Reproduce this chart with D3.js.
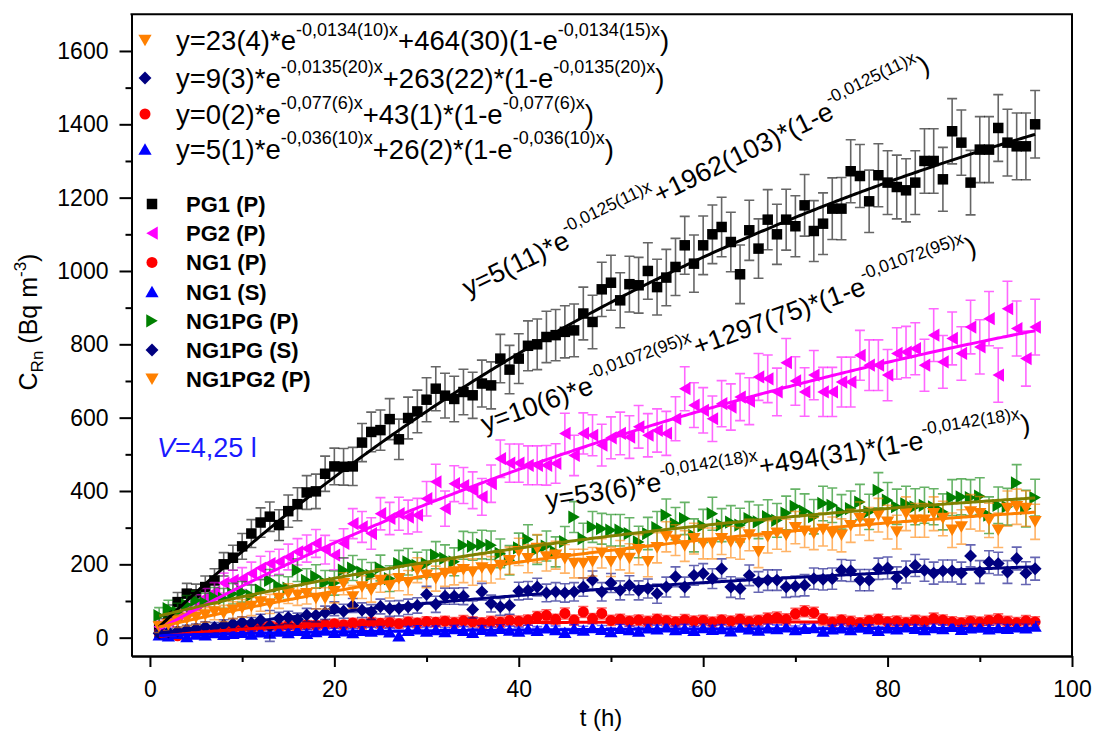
<!DOCTYPE html>
<html><head><meta charset="utf-8">
<script src="https://cdn.jsdelivr.net/npm/d3@7"></script>
<style>
body{margin:0;background:#fff}
svg{display:block}
text{font-family:"Liberation Sans",Arial,sans-serif;fill:#000}
</style>
</head><body>
<svg id="chart" width="1093" height="735"></svg>
<script>
// ---------- data ----------
const hours=[1,2,3,4,5,6,7,8,9,10,11,12,13,14,15,16,17,18,19,20,21,22,23,24,25,26,27,28,29,30,31,32,33,34,35,36,37,38,39,40,41,42,43,44,45,46,47,48,49,50,51,52,53,54,55,56,57,58,59,60,61,62,63,64,65,66,67,68,69,70,71,72,73,74,75,76,77,78,79,80,81,82,83,84,85,86,87,88,89,90,91,92,93,94,95,96];

const seriesNames=["PG1 (P)","PG2 (P)","NG1 (P)","NG1 (S)","NG1PG (P)","NG1PG (S)","NG1PG2 (P)"];

const pg1=[30,65,97,120,118,138,156,200,218,249,
284,314,330,307,345,364,396,399,447,467,
466,467,532,561,566,596,541,599,617,649,
679,660,651,670,661,693,688,761,731,761,
796,800,820,825,834,838,884,861,950,968,
920,964,961,1000,956,982,1011,1070,1020,1070,
1100,1120,1079,991,1111,1061,1140,1100,1140,1122,
1179,1109,1129,1170,1170,1272,1259,1190,1261,1241,
1229,1220,1241,1300,1300,1250,1381,1350,1241,1331,
1331,1390,1350,1340,1340,1400];
const pg1Err=[22,24,26,28,28,30,32,32,34,35,
38,40,40,42,44,45,46,47,48,50,
50,52,52,54,55,56,55,57,58,60,
60,61,62,62,63,64,64,66,66,68,
68,69,70,70,71,72,72,73,74,75,
75,76,76,77,76,77,78,79,78,80,
80,81,81,80,82,81,82,82,83,83,
84,83,84,84,85,86,86,85,86,87,
87,86,87,88,88,87,89,89,88,90,
90,91,91,91,91,92];

const pg2=[30,45,60,78,95,110,125,149,156,161,
175,190,202,207,220,234,243,257,240,225,
257,311,302,284,338,325,338,329,334,379,
425,352,420,415,402,384,420,488,476,476,
470,470,470,475,557,497,557,552,525,545,
557,547,575,552,565,557,597,679,634,620,
597,638,629,656,645,711,706,670,750,700,
670,716,670,670,697,697,770,743,743,716,
775,779,788,743,825,752,816,775,847,793,
870,716,897,843,761,847];
const pg2Err=[15,16,18,20,22,24,25,27,28,30,
31,32,33,34,35,36,37,38,39,40,
40,41,42,43,44,44,45,46,46,47,
48,48,49,49,50,50,51,51,52,52,
53,53,54,54,55,55,56,56,57,57,
58,58,58,59,59,60,60,60,61,62,
62,63,63,64,64,64,65,65,66,66,
66,67,67,67,68,68,68,69,69,70,
70,70,71,71,72,72,72,73,73,74,
74,74,75,75,75,76];

const ng1P=[12,8,5,15,18,20,22,25,24,28,
26,30,32,30,33,31,35,34,36,38,
35,40,37,42,39,41,38,43,40,44,
42,45,41,46,43,40,44,42,47,45,
48,57,61,50,66,48,70,52,66,47,
50,45,48,44,50,46,43,49,45,47,
42,48,45,50,44,47,52,55,50,65,
72,68,50,42,48,44,40,46,50,43,
45,41,47,44,52,48,43,40,45,42,
47,50,44,41,46,43];
const ng1PErr=[8,8,8,9,9,9,10,10,10,10,
11,11,11,11,12,12,12,12,12,12,
12,13,13,13,13,13,13,13,13,13,
13,13,14,14,14,14,14,14,14,14,
14,14,15,14,15,14,15,14,15,14,
14,14,14,14,14,14,14,14,14,14,
14,14,14,14,14,14,15,15,15,15,
15,15,15,14,14,14,14,14,14,14,
14,14,14,14,15,14,14,14,14,14,
14,15,14,14,14,14];

const ng1S=[8,5,12,3,10,8,14,9,12,15,
10,16,13,18,14,20,12,17,21,15,
19,14,20,18,22,16,5,20,24,18,
22,17,25,20,15,23,19,26,21,18,
24,20,27,22,15,25,21,28,23,17,
26,22,18,27,24,30,22,26,20,28,
23,25,19,29,24,21,27,25,30,22,
26,28,18,24,27,22,29,25,20,27,
24,30,26,22,28,25,31,23,27,29,
24,28,26,30,27,32];
const ng1SErr=[7,7,7,8,8,8,8,8,9,9,
9,9,9,9,9,10,10,10,10,10,
10,10,10,10,10,10,10,10,10,10,
10,10,10,10,10,10,10,11,10,10,
10,10,11,10,10,11,10,11,10,10,
11,10,10,11,10,11,10,11,10,11,
10,11,10,11,10,10,11,10,11,10,
11,11,10,10,11,10,11,10,10,11,
10,11,10,10,11,10,11,10,11,11,
10,11,10,11,11,11];

const ng1pgP=[60,79,70,90,102,95,110,107,120,125,
115,130,156,140,135,184,156,167,150,149,
184,190,179,170,190,161,202,207,197,202,
225,216,207,252,249,254,252,230,211,245,
268,240,250,234,262,329,270,302,297,293,
293,284,261,284,300,334,311,325,279,305,
338,307,315,307,325,316,330,320,340,358,
345,330,366,361,343,352,370,343,402,375,
357,365,357,361,357,343,382,384,382,386,
334,361,357,422,352,382];
const ng1pgPErr=[22,23,24,25,25,26,27,27,28,28,
29,29,30,30,31,31,32,32,33,33,
34,34,34,35,35,35,36,36,36,37,
37,37,38,38,38,39,39,39,40,40,
40,40,41,41,41,42,42,42,42,43,
43,43,43,44,44,44,44,44,45,45,
45,45,45,46,46,46,46,46,46,47,
47,47,47,47,47,48,48,48,48,48,
48,48,49,49,49,49,49,49,49,50,
50,50,50,50,50,50];

const ng1pgS=[12,15,18,22,25,30,28,35,38,42,
40,48,32,52,55,50,62,61,68,79,
72,88,75,70,85,79,80,84,88,118,
91,113,113,113,77,125,93,84,88,127,
129,138,122,125,122,125,138,157,125,149,
129,143,129,134,120,138,166,138,170,175,
161,188,138,134,170,152,157,157,138,140,
143,161,159,161,184,182,157,157,188,190,
163,179,197,184,176,182,182,176,223,179,
206,202,179,216,176,188];
const ng1pgSErr=[10,10,11,12,12,13,13,14,14,15,
15,16,42,17,17,17,18,18,18,19,
19,19,20,20,20,21,21,21,21,22,
22,22,22,23,23,23,23,23,24,24,
24,24,24,25,25,25,25,25,25,26,
26,26,26,26,26,27,27,27,27,27,
27,27,28,28,28,28,28,28,28,28,
29,29,29,29,29,29,29,29,29,30,
30,30,30,30,30,30,30,30,30,31,
31,31,31,31,31,31];

const ng1pg2P=[29,35,45,50,55,62,70,66,75,80,
85,97,92,107,120,116,120,107,107,125,
147,111,138,129,156,140,161,150,184,170,
161,175,179,185,179,190,185,197,210,234,
215,243,220,225,215,202,202,207,230,207,
225,216,240,207,245,275,266,250,270,257,
257,270,261,257,280,234,275,285,279,300,
290,284,295,284,279,305,325,310,334,315,
288,338,320,320,338,325,293,302,343,338,
320,293,352,357,352,316];
const ng1pg2PErr=[15,16,17,18,19,20,21,22,23,24,
25,25,26,27,27,28,28,29,29,30,
30,31,31,32,32,32,33,33,34,34,
34,35,35,35,36,36,36,37,37,37,
38,38,38,38,39,39,39,39,40,40,
40,40,41,41,41,41,42,42,42,42,
42,43,43,43,43,43,44,44,44,44,
44,44,45,45,45,45,45,45,46,46,
46,46,46,46,46,47,47,47,47,47,
47,47,48,48,48,48];

// fit parameters  y = A*exp(-k x) + B*(1-exp(-k x))
const fitA=[5,10,0,5,53,9,23];
const fitB=[1962,1297,43,26,494,263,464];
const fitK=[0.0125,0.01072,0.077,0.036,0.0142,0.0135,0.0134];

// equation labels (alternating normal / superscript)
const eqPG1=["y=5(11)*e","-0,0125(11)x","+1962(103)*(1-e","-0,0125(11)x",")"];
const eqPG2=["y=10(6)*e","-0,01072(95)x","+1297(75)*(1-e","-0,01072(95)x",")"];
const eqNG1PGP=["y=53(6)*e","-0,0142(18)x","+494(31)*(1-e","-0,0142(18)x",")"];
const eqNG1PG2P=["y=23(4)*e","-0,0134(10)x","+464(30)(1-e","-0,0134(15)x",")"];
const eqNG1PGS=["y=9(3)*e","-0,0135(20)x","+263(22)*(1-e","-0,0135(20)x",")"];
const eqNG1P=["y=0(2)*e","-0,077(6)x","+43(1)*(1-e","-0,077(6)x",")"];
const eqNG1S=["y=5(1)*e","-0,036(10)x","+26(2)*(1-e","-0,036(10)x",")"];

const xTicks=[0,20,40,60,80,100];
const xMinor=[10,30,50,70,90];
const yTicks=[0,200,400,600,800,1000,1200,1400,1600];
const yMinor=[100,300,500,700,900,1100,1300,1500];

// ---------- setup ----------
const svg=d3.select("#chart");
const L=131.5,R=1072,T=14.3,B=656;
const x=d3.scaleLinear().domain([-2,100]).range([L,R]);
const y=d3.scaleLinear().domain([-50,1700]).range([B,T]);

const colors=["#000000","#ff00ff","#ff0000","#0000ff","#008000","#000080","#ff8000"];
const lineColors=["#000000","#ff00ff","#ff0000","#0000ff","#808000","#000080","#ff8000"];
const shapes=["square","left","circle","up","right","diamond","down"];
const values=[pg1,pg2,ng1P,ng1S,ng1pgP,ng1pgS,ng1pg2P];
const errors=[pg1Err,pg2Err,ng1PErr,ng1SErr,ng1pgPErr,ng1pgSErr,ng1pg2PErr];

function markerPath(type,s){
  const h=s/2,w=s*0.575;
  switch(type){
    case "square": return `M${-h},${-h}h${s}v${s}h${-s}Z`;
    case "circle": return `M${h},0A${h},${h} 0 1,1 ${-h},0A${h},${h} 0 1,1 ${h},0Z`;
    case "diamond": {const r=h*1.12;return `M0,${-r}L${r},0L0,${r}L${-r},0Z`;}
    case "up": return `M0,${-h}L${w},${h}L${-w},${h}Z`;
    case "down": return `M0,${h}L${w},${-h}L${-w},${-h}Z`;
    case "left": return `M${-h},0L${h},${-w}L${h},${w}Z`;
    case "right": return `M${h},0L${-h},${-w}L${-h},${w}Z`;
  }
}
const markSize={square:10.5,circle:11,diamond:11.5,up:11.5,down:11.5,left:11.5,right:11.5};

// ---------- data marks ----------
const plot=svg.append("g");
values.forEach((vals,si)=>{
  const g=plot.append("g");
  const pts=hours.map((h,i)=>({h,v:vals[i],e:errors[si][i]}));
  const eb=g.append("g").attr("stroke",colors[si]).attr("stroke-opacity",0.6).attr("stroke-width",1.6).attr("fill","none");
  eb.selectAll("path").data(pts).join("path")
    .attr("d",d=>{
      const px=x(d.h),y1=y(d.v+d.e),y2=y(d.v-d.e);
      return `M${px},${y1}V${y2}M${px-5},${y1}H${px+5}M${px-5},${y2}H${px+5}`;
    });
  g.append("g").selectAll("path").data(pts).join("path")
    .attr("transform",d=>`translate(${x(d.h)},${y(d.v)})`)
    .attr("d",markerPath(shapes[si],markSize[shapes[si]]))
    .attr("fill",colors[si]);
});

// fit curves
const fitX=d3.range(1,96.001,0.25);
const line=d3.line().x(d=>x(d[0])).y(d=>y(d[1]));
[0,1,2,3,4,5,6].forEach(si=>{
  const pts=fitX.map(t=>[t,fitA[si]*Math.exp(-fitK[si]*t)+fitB[si]*(1-Math.exp(-fitK[si]*t))]);
  plot.append("path").attr("d",line(pts)).attr("fill","none")
    .attr("stroke",lineColors[si]).attr("stroke-width",3);
});

// ---------- axes ----------
const fmt=d3.format("d");
svg.append("g").attr("transform",`translate(0,${B})`)
  .call(d3.axisBottom(x).tickValues(xTicks).tickSize(11).tickSizeOuter(0).tickPadding(14).tickFormat(fmt));
svg.append("g").attr("transform",`translate(0,${B})`)
  .call(d3.axisBottom(x).tickValues(xMinor).tickSize(6).tickSizeOuter(0).tickFormat(""));
svg.append("g").attr("transform",`translate(${L},0)`)
  .call(d3.axisLeft(y).tickValues(yTicks).tickSize(12).tickSizeOuter(0).tickPadding(11).tickFormat(fmt));
svg.append("g").attr("transform",`translate(${L},0)`)
  .call(d3.axisLeft(y).tickValues(yMinor).tickSize(6).tickSizeOuter(0).tickFormat(""));
svg.selectAll(".domain,.tick line").attr("stroke","#000").attr("stroke-width",2);
svg.selectAll(".tick text").attr("font-size",23).attr("font-family","Liberation Sans, Arial, sans-serif").attr("fill","#000");
svg.append("path").attr("d",`M${L-1},${T}H${R}V${B+1}`).attr("fill","none").attr("stroke","#000").attr("stroke-width",2);

// axis titles
svg.append("text").attr("x",601).attr("y",726).attr("text-anchor","middle").attr("font-size",24).text("t (h)");
const yl=svg.append("text").attr("transform","translate(37,322) rotate(-90)").attr("text-anchor","middle").attr("font-size",25);
yl.append("tspan").text("C");
yl.append("tspan").attr("font-size",17).attr("dy",6).text("Rn");
yl.append("tspan").attr("dy",-6).text(" (Bq m");
yl.append("tspan").attr("font-size",17).attr("dy",-11).text("-3");
yl.append("tspan").attr("dy",11).text(")");

// ---------- equations ----------
function eqText(sel,parts,F,S,shift){
  parts.forEach((p,i)=>{
    const sup=i%2===1;
    const t=sel.append("tspan").text(p).attr("font-size",sup?S:F);
    if(i>0) t.attr("dy",sup?-shift:shift);
  });
}
// top legend with equations
const leg1=[[6,eqNG1PG2P,40.5],[5,eqNG1PGS,78],[2,eqNG1P,114],[3,eqNG1S,149]];
leg1.forEach(([si,eq,yy])=>{
  svg.append("path").attr("transform",`translate(145,${yy})`)
    .attr("d",markerPath(shapes[si],markSize[shapes[si]])).attr("fill",colors[si]);
  eqText(svg.append("text").attr("x",176).attr("y",yy+9.5),eq,27.5,18,14.5);
});
// rotated equations
[[eqPG1,468,297,-26],[eqPG2,485,433,-20],[eqNG1PGP,547,509,-9]].forEach(([eq,tx,ty,ang])=>{
  eqText(svg.append("text").attr("transform",`translate(${tx},${ty}) rotate(${ang})`),eq,26.8,17.5,14.5);
});

// series legend
seriesNames.forEach((n,si)=>{
  const yy=204+29.2*si;
  svg.append("path").attr("transform",`translate(152,${yy})`)
    .attr("d",markerPath(shapes[si],markSize[shapes[si]])).attr("fill",colors[si]);
  svg.append("text").attr("x",186).attr("y",yy+8).attr("font-size",22).attr("font-weight","bold").text(n);
});

// volume note
const vt=svg.append("text").attr("x",157).attr("y",457).attr("font-size",27).style("fill","#1a1aff");
vt.append("tspan").attr("font-style","italic").text("V");
vt.append("tspan").text("=4,25 l");
</script>
</body></html>
